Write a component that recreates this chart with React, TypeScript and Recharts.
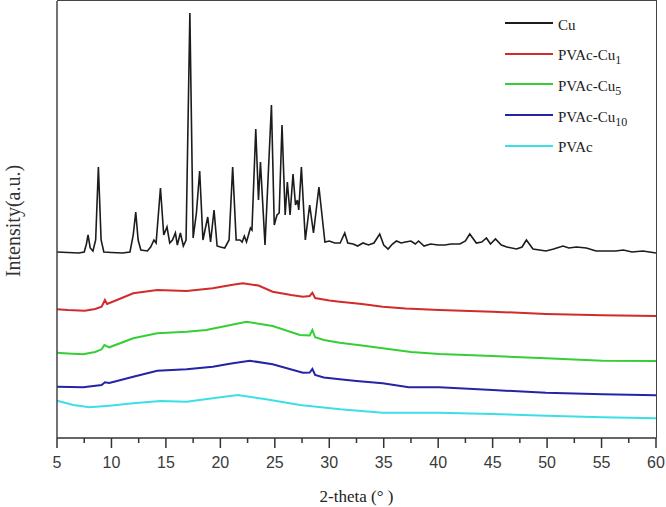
import React from 'react';
import { LineChart, Line, XAxis, YAxis, Label } from 'recharts';

// 2-theta positions and relative intensities (a.u.)
const cuTheta = [
  5, 6, 7, 7.5, 7.7, 7.85, 8.05, 8.3, 8.55, 8.8, 9.05, 9.3, 10, 11, 11.7, 12, 12.23, 12.45, 12.7, 13.3,
  13.6, 13.9, 14.1, 14.5, 14.8, 15.1, 15.35, 15.6, 15.87, 16.05, 16.33, 16.6, 16.85, 17.2, 17.5, 17.8, 18.1, 18.4, 18.84, 19.1,
  19.42, 19.7, 20, 20.4, 20.8, 21.13, 21.45, 21.8, 22, 22.2, 22.4, 22.76, 22.9, 23.25, 23.5, 23.68, 24.1, 24.69, 24.95, 25.2,
  25.4, 25.66, 25.95, 26.15, 26.4, 26.67, 26.9, 27.07, 27.2, 27.44, 27.8, 28.2, 28.55, 29.05, 29.6, 30, 30.5, 31, 31.42, 31.7,
  32.2, 32.6, 33.1, 33.6, 34.1, 34.63, 35, 35.4, 35.8, 36.17, 36.6, 37, 37.5, 37.9, 38.2, 38.7, 39.3, 40, 40.6, 41.2,
  42, 42.5, 42.9, 43.5, 44, 44.43, 44.8, 45.26, 45.8, 46.3, 47.2, 47.7, 48.1, 48.7, 49.3, 49.9, 50.6, 51.46, 52, 52.7,
  53.6, 54.5, 55.5, 56.3, 57, 57.8, 58.8, 59.4, 60,
];
const cuIntensity = [
  186, 185.5, 185, 186, 194, 203, 190, 187, 198, 271, 198, 186, 185.5, 185, 186, 203, 226, 198, 188, 187,
  191, 198, 195, 250, 203, 211, 195, 198, 205, 193, 205, 192, 198, 425, 200, 225, 267, 198, 221, 196,
  228, 192, 191, 190, 198, 271, 198, 198, 196, 202, 196, 210, 208, 309, 238, 276, 193, 333, 213, 223,
  225, 313, 223, 256, 223, 264, 233, 238, 228, 271, 198, 233, 205, 251, 196, 197, 195, 195, 205, 195,
  194, 192, 195, 193, 195, 204, 193, 189, 194, 197, 195, 196, 197, 194, 197, 192, 194, 193, 193, 194,
  194, 197, 204, 195, 196, 200, 194, 199, 193, 191, 189, 191, 198, 189, 188, 187, 189, 192, 190, 191,
  190, 187, 187, 187, 188, 186, 187, 186, 185,
];

const cu1Theta = [5, 6, 7.55, 8.5, 9.1, 9.4, 9.6, 10.5, 12, 14.2, 16.9, 19.3, 21, 22.06, 23.5, 24.8, 26.5, 27.58, 28.2, 28.45, 28.7, 29.2, 30, 30.96, 33, 34.9, 37, 40.1, 45, 49.9, 55.1, 60];
const cu1Intensity = [128.7, 128, 127.3, 129, 131.3, 138, 134, 138, 144.7, 148, 147, 149.7, 153, 154.7, 152.5, 146.3, 143, 141.3, 142, 145.3, 140, 139, 137.5, 136.3, 134, 131.3, 129.5, 128, 126.3, 124, 122.7, 122];

const cu5Theta = [5, 6, 7.4, 8.5, 9.1, 9.35, 9.8, 12, 14.2, 16.9, 18.7, 20.5, 22.4, 24.8, 27.3, 28.2, 28.45, 28.7, 29.5, 30.96, 33, 34.9, 37.5, 40.1, 45, 49.9, 55.1, 60];
const cu5Intensity = [85.3, 84.5, 83.7, 86, 88.7, 93, 90.7, 99.7, 104.7, 106.3, 108, 112, 116.3, 112, 103, 102.5, 108, 100.7, 98, 95.3, 92.5, 89.7, 86, 84, 82, 79.7, 77.3, 77];

const cu10Theta = [5, 7.4, 9.1, 9.4, 9.8, 12, 14.2, 16.9, 19.3, 21, 22.7, 24.8, 27.58, 28.2, 28.45, 28.7, 29.5, 30.96, 32.5, 34.9, 37.3, 40.1, 45, 49.9, 55.1, 60];
const cu10Intensity = [51.3, 50.7, 53, 55.7, 55, 61.3, 67.3, 68.7, 71.3, 74.5, 77.3, 73.7, 65.3, 65.5, 69, 63, 60.5, 58.7, 57, 54.7, 50.7, 50.7, 48, 45.3, 43.7, 42.7];

const pvacTheta = [5, 6.5, 8, 9.8, 12, 14.5, 16.9, 19.3, 21.6, 24.2, 27.3, 31, 34.9, 40.1, 45, 49.9, 55.1, 60];
const pvacIntensity = [37.3, 33, 30.7, 32.3, 34.7, 37, 36.3, 39.7, 43, 38.7, 33, 28.7, 25.3, 25.3, 24, 22.3, 20.7, 19.7];

const majorTicks = [5, 10, 15, 20, 25, 30, 35, 40, 45, 50, 55, 60];
const minorTicks = [7.5, 12.5, 17.5, 22.5, 27.5, 32.5, 37.5, 42.5, 47.5, 52.5, 57.5];

const toPoints = (xs: number[], ys: number[]) => xs.map((x, i) => ({ x, y: ys[i] }));

const series = [
  { name: 'Cu', base: 'Cu', sub: '', color: '#1c1c1c', width: 1.6, data: toPoints(cuTheta, cuIntensity) },
  { name: 'PVAc-Cu1', base: 'PVAc-Cu', sub: '1', color: '#d22b2b', width: 2, data: toPoints(cu1Theta, cu1Intensity) },
  { name: 'PVAc-Cu5', base: 'PVAc-Cu', sub: '5', color: '#35cf35', width: 2, data: toPoints(cu5Theta, cu5Intensity) },
  { name: 'PVAc-Cu10', base: 'PVAc-Cu', sub: '10', color: '#2424a6', width: 2, data: toPoints(cu10Theta, cu10Intensity) },
  { name: 'PVAc', base: 'PVAc', sub: '', color: '#3ddfe6', width: 2, data: toPoints(pvacTheta, pvacIntensity) },
];

const allTicks = [...majorTicks, ...minorTicks].sort((a, b) => a - b);

const serif = "'Liberation Serif', 'Times New Roman', serif";
const sans = "'Liberation Sans', Arial, sans-serif";
const chartMargin = { top: 1, right: 10, bottom: 0, left: 0 };
const yAxisWidth = 57;
const xAxisHeight = 69;
const chartW = 666;
const chartH = 507;

// one tick component for both kinds: long mark + number for majors, short mark for minors
const ThetaTick = ({ x, y, payload }: any) => {
  const major = majorTicks.includes(payload.value);
  return (
    <g>
      <rect x={x - 0.75} y={y} width={1.5} height={major ? 10 : 5} fill="#333" />
      {major && (
        <text x={x} y={y + 30} textAnchor="middle" fontFamily={sans} fontSize={16} fill="#3a3a3a">
          {payload.value}
        </text>
      )}
    </g>
  );
};

// legend is laid over the plot (top right), so it must not eat plot space
const XrdLegend = () => (
  <div style={{ position: 'absolute', top: 8, left: 505, fontFamily: serif, fontSize: 15, color: '#222' }}>
    {series.map((s) => (
      <div key={s.name} style={{ display: 'flex', alignItems: 'center', height: 30.6, whiteSpace: 'nowrap' }}>
        <span style={{ display: 'inline-block', width: 48, height: 2, background: s.color, marginRight: 5 }} />
        <span style={{ position: 'relative', top: 2 }}>
          {s.base}
          {s.sub && <sub style={{ fontSize: 12, verticalAlign: 'baseline', position: 'relative', top: 4 }}>{s.sub}</sub>}
        </span>
      </div>
    ))}
  </div>
);

// top and right edges of the plot box, sized from the same margins the chart uses
const PlotFrame = () => (
  <div
    style={{
      position: 'absolute',
      left: chartMargin.left + yAxisWidth,
      top: chartMargin.top - 0.75,
      width: chartW - chartMargin.left - yAxisWidth - chartMargin.right,
      height: chartH - chartMargin.top - chartMargin.bottom - xAxisHeight,
      borderTop: '1.5px solid #444',
      borderRight: '1.5px solid #444',
      boxSizing: 'content-box',
      pointerEvents: 'none',
    }}
  />
);

const YTitle = () => (
  <text
    x={13}
    y={221}
    transform="rotate(-90 13 221)"
    textAnchor="middle"
    dominantBaseline="central"
    fontFamily={serif}
    fontSize={20}
    fill="#333"
  >
    Intensity(a.u.)
  </text>
);

export default function App() {
  return (
    <div style={{ position: 'absolute', left: 0, top: 0, width: chartW, height: chartH, background: '#fff' }}>
      <LineChart width={chartW} height={chartH} margin={chartMargin}>
        <XAxis
          type="number"
          dataKey="x"
          domain={[5, 60]}
          allowDataOverflow
          ticks={allTicks}
          interval={0}
          tickSize={0}
          tickMargin={0}
          tickLine={false}
          axisLine={{ stroke: '#333', strokeWidth: 1.5 }}
          tick={<ThetaTick />}
          height={xAxisHeight}
        >
          <Label
            value="2-theta (° )"
            position="insideBottom"
            offset={5}
            style={{ fontFamily: serif, fontSize: 17, fill: '#222' }}
          />
        </XAxis>
        <YAxis
          type="number"
          domain={[0, 437]}
          allowDataOverflow
          width={yAxisWidth}
          tick={false}
          tickLine={false}
          axisLine={{ stroke: '#444', strokeWidth: 1.5 }}
        >
          <Label content={() => <YTitle />} />
        </YAxis>
        {series.map((s) => (
          <Line
            key={s.name}
            data={s.data}
            dataKey="y"
            name={s.name}
            type="linear"
            stroke={s.color}
            strokeWidth={s.width}
            dot={false}
            activeDot={false}
            isAnimationActive={false}
          />
        ))}
      </LineChart>
      <PlotFrame />
      <XrdLegend />
    </div>
  );
}
